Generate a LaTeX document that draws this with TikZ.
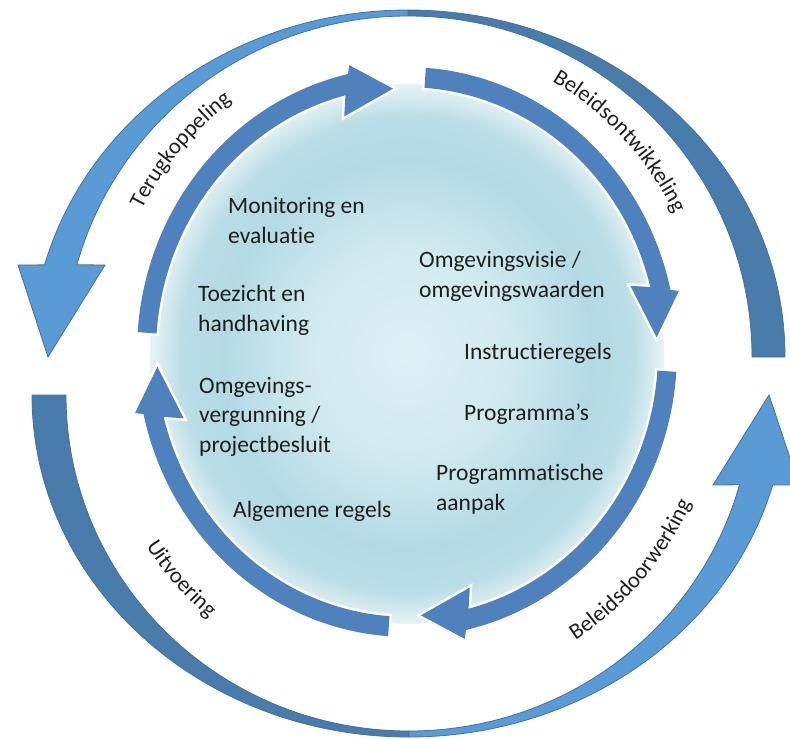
\documentclass[tikz,border=0pt]{standalone}
\usepackage{fontspec}
\setmainfont{Carlito}[Ligatures=NoCommon]
\usetikzlibrary{decorations.text,calc}
\definecolor{innerblue}{HTML}{4F81BD}
\definecolor{lightblue}{HTML}{5B9BD5}
\definecolor{darkblue}{HTML}{497CAA}
\definecolor{edgeblue}{HTML}{41719C}
\definecolor{textc}{HTML}{1E1E1E}
\definecolor{gA}{HTML}{E0F0F4}
\definecolor{gB}{HTML}{D0E9EF}
\definecolor{gC}{HTML}{B3DAE4}
\definecolor{gD}{HTML}{BADDE6}
\definecolor{gE}{HTML}{E6F3F6}
\pgfdeclareradialshading{disc}{\pgfpointorigin}{color(0bp)=(gA); color(10bp)=(gB); color(18bp)=(gC); color(22bp)=(gD); color(25bp)=(gE); color(50bp)=(gE)}
\newcommand\lblfont{\fontsize{22.5}{26}\selectfont}
\begin{document}
\begin{tikzpicture}[x=1pt,y=-1pt,
  innerarrow/.style={preaction={draw=white, line width=5pt}, fill=innerblue},
  outerlight/.style={fill=lightblue, draw=edgeblue, line width=0.8pt},
  outerdark/.style={fill=darkblue, draw=edgeblue, line width=0.8pt},
  itext/.style={anchor=base west, align=left, font=\fontsize{23.5}{29.3}\selectfont, text=textc, inner sep=0pt},
  arclabel/.style={postaction={decorate}, decoration={text along path, text align=center, text color=textc, text={|\lblfont|#1}}}]
\useasboundingbox (0,0) rectangle (790,739);
% central disc
\shade[shading=disc] (407,354) ellipse [x radius=257, y radius=270];
% inner arrows
\begin{scope}[shift={(407,352)}, yscale=1.055]
\foreach \p in {0,90,180,270}{
  \path[innerarrow] ({\p+4}:270) arc[start angle=\p+4, end angle=\p+77.4, radius=270]
    -- ({\p+78}:278) -- ({\p+86.8}:250) -- ({\p+74.3}:232) -- ({\p+75.8}:251)
    arc[start angle=\p+75.8, end angle=\p+4, radius=251] -- cycle;
}
\end{scope}
% outer top shape
\path[outerdark] (408,10) arc[start angle=270, end angle=360, x radius=377, y radius=347]
  -- (752,357) arc[start angle=0, end angle=-90, x radius=344, y radius=341] -- cycle;
\path[outerlight] ($(408,357)+(195.4:377 and 347)$) arc[start angle=195.4, end angle=270, x radius=377, y radius=347]
  -- (408,16) arc[start angle=270, end angle=195.7, x radius=344, y radius=341]
  -- (105,265) -- (48,357) -- (18,265) -- cycle;
% outer bottom shape
\path[outerdark] (32,395) arc[start angle=180, end angle=90, x radius=377, y radius=342]
  -- (409,731) arc[start angle=90, end angle=180, x radius=343, y radius=336] -- cycle;
\path[outerlight] ($(409,395)+(15.25:377 and 342)$) arc[start angle=15.25, end angle=90, x radius=377, y radius=342]
  -- (409,731) arc[start angle=90, end angle=15.5, x radius=343, y radius=336]
  -- (713,485) -- (769,395) -- (799,485) -- cycle;
% arc labels
\path[arclabel=Terugkoppeling] ($(407,360)+(190:301 and 318)$) arc[start angle=190, end angle=253.4, x radius=301, y radius=318];
\path[arclabel=Beleidsontwikkeling] ($(407,360)+(284:301 and 318)$) arc[start angle=284, end angle=346.8, x radius=301, y radius=318];
\path[arclabel=Beleidsdoorwerking] ($(407,360)+(73.3:315 and 332)$) arc[start angle=73.3, end angle=10.5, x radius=315, y radius=332];
\path[arclabel=Uitvoering] ($(407,360)+(168.5:315 and 332)$) arc[start angle=168.5, end angle=105.7, x radius=315, y radius=332];
% inner texts (anchored at the baseline of their last line)
\node[itext] (mon) at (228,243) {Monitoring en\\evaluatie};
\node[itext] (toe) at (198,331) {Toezicht en\\handhaving};
\node[itext] (ovis) at (419,297) {Omgevingsvisie /\\omgevingswaarden};
\node[itext] (instr) at (464,359) {Instructieregels};
\node[itext] (prog) at (464,420) {Programma’s};
\node[itext] (paan) at (436,510) {Programmatische\\aanpak};
\node[itext] (ovg) at (199,452) {Omgevings-\\vergunning /\\projectbesluit};
\node[itext] (alg) at (233,517) {Algemene regels};
\end{tikzpicture}
\end{document}
